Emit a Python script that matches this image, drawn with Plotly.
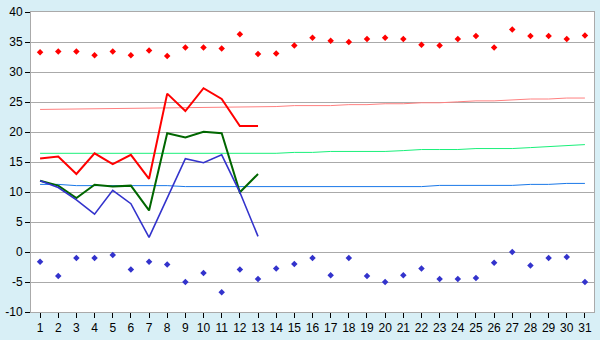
import plotly.graph_objects as go

days = list(range(1, 32))

# daily maximum (red points) and minimum (blue points)
max_pts = [33.3, 33.4, 33.4, 32.8, 33.4, 32.8, 33.6, 32.65, 34.1, 34.1, 33.9, 36.3, 33.0, 33.1,
           34.4, 35.7, 35.2, 35.0, 35.5, 35.7, 35.5, 34.55, 34.4, 35.5, 36.0, 34.1, 37.1, 36.0,
           36.0, 35.5, 36.1]
min_pts = [-1.64, -4.0, -1.0, -1.0, -0.5, -2.9, -1.64, -2.1, -5.0, -3.5, -6.7, -2.9, -4.5, -2.75,
           -2.0, -1.0, -3.86, -1.0, -4.0, -5.0, -3.86, -2.75, -4.5, -4.5, -4.34, -1.8, 0.0, -2.27,
           -1.0, -0.84, -5.0]

# current month observed lines (days 1-13)
obs_days = list(range(1, 14))
obs_max = [15.6, 15.9, 13.0, 16.45, 14.65, 16.2, 12.2, 26.4, 23.5, 27.3, 25.5, 21.0, 21.0]
obs_mean = [11.86, 11.06, 9.0, 11.2, 10.9, 11.06, 6.93, 19.8, 19.1, 20.05, 19.8, 9.95, 13.0]
obs_min = [11.86, 10.75, 8.68, 6.3, 10.27, 8.05, 2.43, 9.0, 15.56, 14.87, 16.2, 9.95, 2.6]

# normals
norm_max = [23.76, 23.8, 23.8, 23.8, 23.8, 23.92, 23.92, 23.92, 24.08, 24.08, 24.08, 24.08, 24.24,
            24.24, 24.4, 24.4, 24.4, 24.56, 24.56, 24.71, 24.71, 24.87, 24.87, 25.03, 25.19, 25.19,
            25.35, 25.5, 25.5, 25.66, 25.66]
norm_mean = [16.45, 16.45, 16.45, 16.45, 16.45, 16.45, 16.45, 16.45, 16.45, 16.45, 16.45, 16.45,
             16.45, 16.45, 16.6, 16.6, 16.76, 16.76, 16.76, 16.76, 16.9, 17.08, 17.08, 17.08, 17.24,
             17.24, 17.24, 17.4, 17.56, 17.65, 17.9]
norm_min = [11.27, 11.27, 11.06, 11.06, 11.06, 11.06, 11.06, 11.06, 10.9, 10.9, 10.9, 10.9, 10.9,
            10.9, 10.9, 10.9, 10.9, 10.9, 10.9, 10.9, 10.9, 10.9, 11.1, 11.1, 11.1, 11.1, 11.1,
            11.27, 11.27, 11.43, 11.43]

y_ticks = [-10, -5, 0, 5, 10, 15, 20, 25, 30, 35, 40]

fig = go.Figure()
fig.add_trace(go.Scatter(x=days, y=norm_max, mode="lines", line=dict(color="#ff8080", width=1)))
fig.add_trace(go.Scatter(x=days, y=norm_mean, mode="lines", line=dict(color="#19f07a", width=1)))
fig.add_trace(go.Scatter(x=days, y=norm_min, mode="lines", line=dict(color="#1a78e8", width=1)))
fig.add_trace(go.Scatter(x=obs_days, y=obs_max, mode="lines", line=dict(color="#ff0000", width=2)))
fig.add_trace(go.Scatter(x=obs_days, y=obs_mean, mode="lines", line=dict(color="#006600", width=2)))
fig.add_trace(go.Scatter(x=obs_days, y=obs_min, mode="lines", line=dict(color="#3333cc", width=1.6)))
fig.add_trace(go.Scatter(x=days, y=max_pts, mode="markers",
                         marker=dict(symbol="diamond", size=5, color="#ff0000")))
fig.add_trace(go.Scatter(x=days, y=min_pts, mode="markers",
                         marker=dict(symbol="diamond", size=5, color="#3333cc")))

fig.update_layout(
    width=600, height=340,
    margin=dict(l=26, r=5, t=5, b=20),
    paper_bgcolor="#d8eff6",
    plot_bgcolor="#ffffff",
    showlegend=False,
    font=dict(family="Liberation Sans", size=12, color="#000000"),
)
fig.update_xaxes(
    range=[0.5, 31.5], tickmode="array", tickvals=days, ticktext=[str(d) for d in days],
    showgrid=False, zeroline=False, showline=True, linecolor="#aaaaaa", linewidth=1, mirror=True,
    ticks="outside", ticklen=5, tickcolor="#000000", tickfont=dict(size=12),
    ticklabeloverflow="allow",
)
fig.update_yaxes(
    range=[-10, 40], tickmode="array", tickvals=y_ticks, ticktext=[str(v) for v in y_ticks],
    showgrid=True, gridcolor="#aaaaaa", gridwidth=1, zeroline=False,
    showline=True, linecolor="#aaaaaa", linewidth=1, mirror=True,
    ticks="outside", ticklen=5, tickcolor="#000000", tickfont=dict(size=12),
    ticklabeloverflow="allow", ticklabelstandoff=0,
)
fig.write_html("out.html")
